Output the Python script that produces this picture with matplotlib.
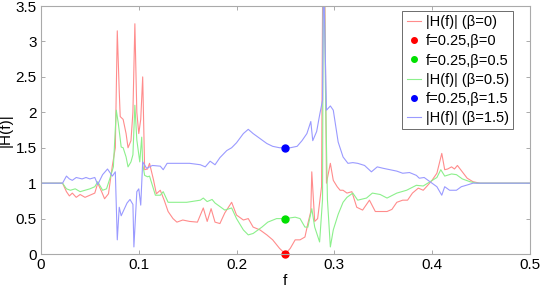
import numpy as np
import matplotlib.pyplot as plt

plt.rcParams['font.family'] = ['Liberation Sans', 'DejaVu Sans']

# |H(f)| for beta = 0 (red)
f_b0 = [0, .022, .026, .029, .032, .036, .040, .045, .050, .055,
        .058, .062, .065, .069, .073, .076, .078, .080, .081, .084,
        .087, .089, .092, .094, .096, .098, .100, .102, .104, .106,
        .109, .111, .115, .118, .122, .126, .130, .135, .139, .145,
        .152, .160, .166, .170, .174, .178, .183, .188, .195, .200,
        .207, .212, .217, .224, .231, .237, .244, .250, .255, .260,
        .265, .270, .273, .276, .277, .280, .283, .287, .289, .292,
        .296, .299, .303, .306, .309, .313, .318, .323, .329, .336,
        .342, .347, .354, .359, .364, .370, .375, .380, .386, .391,
        .395, .400, .405, .410, .413, .416, .420, .423, .426, .431,
        .436, .442, .449, .5]
H_b0 = [1.0, 1.0, .88, .82, .86, .80, .84, .80, .83, .86,
        1.0, .88, .78, .85, 1.25, 1.5, 3.15, 2.3, 1.94, 1.9,
        1.7, 1.5, 1.6, 2.0, 3.25, 2.0, 1.7, 1.9, 2.5, 1.19,
        1.2, 1.28, 1.05, .85, .9, .76, .6, .5, .45, .48,
        .46, .45, .65, .46, .64, .45, .43, .58, .73, .55,
        .48, .5, .38, .34, .27, .2, .08, 0.0, .08, .2,
        .2, .24, .43, .6, 1.16, .46, .5, .95, 6.0, 1.0,
        1.28, 1.04, .95, .9, .9, .86, .88, .66, .62, .76,
        .6, .6, .6, .63, .73, .76, .76, .86, .93, .9,
        .96, 1.04, 1.14, 1.42, 1.19, 1.2, 1.23, 1.2, 1.25, 1.16,
        1.07, 1.02, 1.0, 1.0]

# |H(f)| for beta = 0.5 (green)
f_b05 = [0, .022, .026, .030, .035, .040, .045, .050, .055, .058,
         .063, .067, .071, .074, .077, .079, .082, .084, .087, .089,
         .092, .094, .096, .098, .101, .103, .104, .106, .109, .111,
         .117, .122, .125, .130, .135, .149, .163, .166, .170, .175,
         .178, .183, .188, .195, .200, .207, .212, .217, .226, .232,
         .241, .250, .260, .265, .270, .273, .277, .280, .285, .288,
         .289, .291, .293, .296, .299, .304, .309, .313, .319, .324,
         .333, .339, .347, .354, .364, .374, .384, .391, .398, .405,
         .409, .413, .420, .425, .431, .439, .446, .5]
H_b05 = [1.0, 1.0, .92, .9, .92, .88, .9, .92, .95, 1.02,
         .9, .92, 1.09, 1.23, 2.03, 1.85, 1.51, 1.5, 1.37, 1.23,
         1.3, 1.4, 2.1, 1.61, 1.3, 1.65, 1.27, 1.11, 1.09, 1.1,
         .83, .83, .88, .73, .73, .73, .76, .79, .74, .77,
         .72, .67, .62, .65, .5, .34, .27, .29, .38, .45,
         .5, .5, .52, .5, .38, .38, .64, .38, .17, .77,
         5.0, 2.34, .77, .1, .34, .56, .73, .8, .86, .76,
         .79, .86, .84, .79, .86, .9, .97, .96, 1.02, 1.08,
         1.19, 1.1, 1.13, 1.12, 1.06, 1.02, 1.0, 1.0]

# |H(f)| for beta = 1.5 (blue)
f_b15 = [0, .022, .026, .029, .032, .036, .042, .046, .050, .055,
         .058, .063, .068, .073, .076, .078, .080, .082, .084, .088,
         .091, .094, .095, .098, .100, .102, .104, .108, .114, .122,
         .125, .129, .139, .152, .163, .168, .173, .178, .183, .190,
         .195, .200, .207, .212, .217, .224, .231, .237, .244, .250,
         .255, .262, .267, .272, .276, .278, .282, .285, .288, .289,
         .292, .296, .299, .304, .309, .314, .319, .324, .331, .338,
         .344, .350, .357, .364, .370, .377, .384, .387, .392, .400,
         .405, .410, .413, .418, .425, .430, .435, .442, .5]
H_b15 = [1.0, 1.0, 1.1, 1.06, 1.04, 1.08, 1.06, 1.08, 1.06, 1.08,
         .98, 1.12, 1.2, 1.1, 1.16, .2, .66, .54, .6, .72,
         .77, .7, .1, .88, .92, .69, 1.3, 1.21, 1.25, 1.24,
         1.19, 1.28, 1.28, 1.28, 1.26, 1.23, 1.31, 1.26, 1.36, 1.46,
         1.5, 1.57, 1.7, 1.76, 1.7, 1.63, 1.56, 1.52, 1.5, 1.5,
         1.5, 1.52, 1.6, 1.7, 1.87, 1.6, 1.73, 1.96, 2.17, 4.0,
         2.03, 2.09, 2.03, 1.58, 1.37, 1.28, 1.29, 1.28, 1.25, 1.16,
         1.23, 1.21, 1.19, 1.17, 1.14, 1.15, 1.11, 1.07, 1.08, 1.0,
         .95, .83, .95, .9, .9, .95, .97, 1.0, 1.0]

# marked points at f = 0.25
f_mark = 0.25
H_mark = [0.0, 0.5, 1.5]

fig = plt.figure(figsize=(5.4, 2.88), dpi=100)
ax = fig.add_axes([0.076, 0.118, 0.905, 0.861])

l0, = ax.plot(f_b0, H_b0, color='#ff8c8c', lw=0.8)
l05, = ax.plot(f_b05, H_b05, color='#8cf08c', lw=0.8)
l15, = ax.plot(f_b15, H_b15, color='#9a9aff', lw=0.8)
d0, = ax.plot(f_mark, H_mark[0], 'o', color='#ff0000', ms=5, clip_on=False)
d05, = ax.plot(f_mark, H_mark[1], 'o', color='#00e000', ms=5)
d15, = ax.plot(f_mark, H_mark[2], 'o', color='#0000ff', ms=5)

ax.set_xlim(0, 0.5)
ax.set_ylim(0, 3.5)
ax.set_xticks([0, 0.1, 0.2, 0.3, 0.4, 0.5])
ax.set_xticklabels(['0', '0.1', '0.2', '0.3', '0.4', '0.5'])
ax.set_yticks(np.arange(0, 3.6, 0.5))
ax.set_yticklabels(['0', '0.5', '1', '1.5', '2', '2.5', '3', '3.5'])
ax.tick_params(direction='in', top=True, right=True, length=3, width=0.5,
               color='#888888', labelsize=11, pad=3)
for s in ax.spines.values():
    s.set_color('#aaaaaa')
    s.set_linewidth(0.8)
ax.set_xlabel('f', fontsize=11, labelpad=1)
ax.set_ylabel('|H(f)|', fontsize=11, labelpad=2)

leg = ax.legend([l0, d0, d05, l05, d15, l15],
                ['|H(f)| (β=0)', 'f=0.25,β=0', 'f=0.25,β=0.5',
                 '|H(f)| (β=0.5)', 'f=0.25,β=1.5', '|H(f)| (β=1.5)'],
                loc='upper right', bbox_to_anchor=(0.966, 0.98), borderaxespad=0,
                fontsize=10.5, handlelength=1.0, handletextpad=0.3,
                labelspacing=0.35, borderpad=0.3, fancybox=False,
                framealpha=1, edgecolor='#555555', markerscale=0.8)
leg.get_frame().set_linewidth(0.6)

plt.savefig('out.png', dpi=100)
